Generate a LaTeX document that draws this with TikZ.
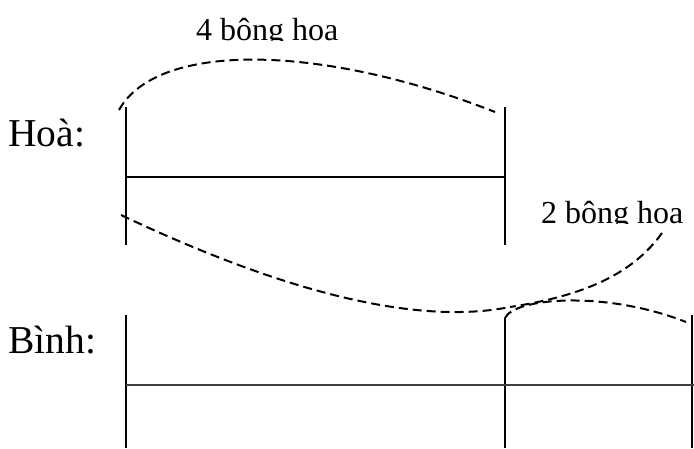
\documentclass[tikz,border=0pt]{standalone}
\usepackage{fontspec}
\setmainfont{Liberation Serif}
\begin{document}
\begin{tikzpicture}[x=1pt,y=-1pt,
  seg/.style={line width=1.5pt},
  midline/.style={line width=1.6pt, black!75},
  arc/.style={line width=2pt, dash pattern=on 9pt off 5pt},
  lbl/.style={inner sep=0pt, anchor=base west, font=\fontsize{39.5}{39.5}\selectfont},
  note/.style={inner sep=0pt, anchor=base west, font=\fontsize{32}{32}\selectfont}]
\useasboundingbox (0,0) rectangle (694,448);

% labels
\node[lbl] (hoa) at (8,146) {Hoà:};
\node[lbl] (binh) at (8,353) {Bình:};
\begin{scope}
  \clip (0,0) rectangle (694,40);
  \node[note] (n4) at (196,40) {4 bông hoa};
\end{scope}
\begin{scope}
  \clip (0,190) rectangle (694,223.5);
  \node[note] (n2) at (541,223) {2 bông hoa};
\end{scope}

% Hoa bar
\coordinate (h1t) at (126,107); \coordinate (h1b) at (126,245);
\coordinate (h2t) at (505,107); \coordinate (h2b) at (505,245);
\coordinate (hl) at (126,177);  \coordinate (hr) at (505,177);
\draw[seg] (h1t) -- (h1b);
\draw[seg] (h2t) -- (h2b);
\draw[seg] (hl) -- (hr);

% Binh bar
\coordinate (b1t) at (126,315); \coordinate (b1b) at (126,448);
\coordinate (b2t) at (505,318); \coordinate (b2b) at (505,448);
\coordinate (b3t) at (692,315); \coordinate (b3b) at (692,448);
\coordinate (bl) at (126,385);  \coordinate (br) at (694,385);
\draw[seg] (b1t) -- (b1b);
\draw[seg] (b2t) -- (b2b);
\draw[seg] (b3t) -- (b3b);
\draw[midline] (bl) -- (br);

% dashed arcs
\coordinate (a1s) at (119,110); \coordinate (a1e) at (495,112);
\draw[arc] (a1s) .. controls (158,40) and (325,45) .. (a1e);
\coordinate (a2s) at (121,215); \coordinate (a2e) at (510,307);
\draw[arc] (a2s) .. controls (290,295) and (420,325) .. (a2e);
\coordinate (a3s) at (662,233);
\draw[arc] (a3s) .. controls (632,275) and (582,296) .. (a2e);
\coordinate (a4e) at (686,322);
\draw[arc] (b2t) .. controls (514,298) and (605,290) .. (a4e);
\end{tikzpicture}
\end{document}
